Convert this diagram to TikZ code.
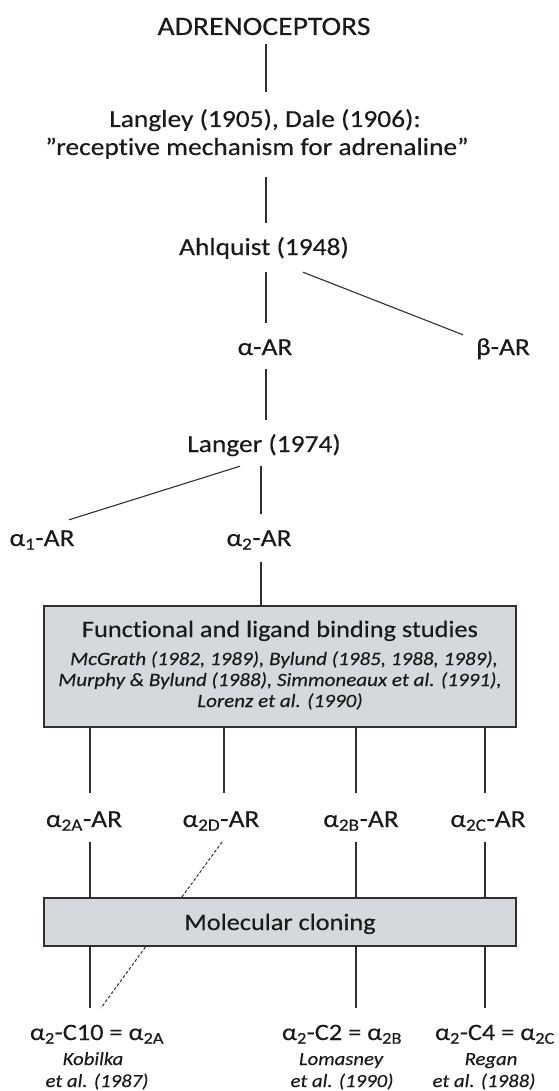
\documentclass[tikz,border=0pt]{standalone}
\usepackage{fontspec}
\setmainfont{Carlito}[FakeStretch=1.12, FakeBold=0.3, Ligatures=NoCommon]
\newcommand{\sbs}[1]{\textsubscript{#1}}
\definecolor{txt}{HTML}{1A1A1A}
\definecolor{ln}{HTML}{303030}
\definecolor{boxfill}{HTML}{D5D9DD}
\begin{document}
\begin{tikzpicture}[x=1pt,y=-1pt,
  lab/.style={font=\fontsize{24.5}{28}\selectfont, inner sep=0pt, text height=16pt, text depth=0pt, anchor=base, text=txt},
  ttl/.style={font=\fontsize{23.5}{28}\selectfont, inner sep=0pt, anchor=base, text=txt},
  cit/.style={font=\fontsize{18.5}{22}\selectfont\itshape, inner sep=0pt, anchor=base, text=txt},
  bcit/.style={font=\fontsize{18.8}{22}\selectfont\itshape, inner sep=0pt, anchor=base, text=txt},
  blab/.style={font=\fontsize{23.5}{28}\selectfont, inner sep=0pt, text height=16pt, text depth=0pt, anchor=base, text=txt},
  box/.style={draw=ln, line width=1.3pt, fill=boxfill, inner sep=0pt},
  conn/.style={draw=ln, line width=1.1pt},
  dconn/.style={draw=ln, line width=1pt, dash pattern=on 3pt off 2pt}]
\useasboundingbox (0,0) rectangle (558,1091);

% text nodes
\node[lab, font=\fontsize{26.5}{30}\selectfont] (adr) at (264,35) {ADRENOCEPTORS};
\node[lab] (lang1) at (265,127) {Langley (1905), Dale (1906):};
\node[lab] (lang2) at (257,155) {”receptive mechanism for adrenaline”};
\node[lab] (ahl) at (264,255) {Ahlquist (1948)};
\node[lab] (alpha) at (265,355) {α-AR};
\node[lab] (beta) at (503,355) {β-AR};
\node[lab] (langer) at (264,452) {Langer (1974)};
\node[lab] (a1) at (42,546) {α\sbs{1}-AR};
\node[lab] (a2) at (259,546) {α\sbs{2}-AR};

\node[lab] (a2a) at (84,827) {α\sbs{2A}-AR};
\node[lab] (a2d) at (221,827) {α\sbs{2D}-AR};
\node[lab] (a2b) at (361,827) {α\sbs{2B}-AR};
\node[lab] (a2c) at (488,827) {α\sbs{2C}-AR};

\coordinate (ta) at (261,0);
\coordinate (la) at (90,793);
\coordinate (ld) at (224,793);
\coordinate (lb) at (356,793);
\coordinate (lc) at (485,793);
\coordinate (ma) at (90,842);
\coordinate (md) at (222,842);
\coordinate (mb) at (356,842);
\coordinate (mcc) at (485,842);
\coordinate (ea) at (90,1008);
\coordinate (ed) at (101,1008);
\coordinate (eb) at (356,1008);
\coordinate (ec) at (485,1008);

\node[blab] (c10) at (97,1040) {α\sbs{2}-C10 = α\sbs{2A}};
\node[blab] (c2) at (342,1040) {α\sbs{2}-C2 = α\sbs{2B}};
\node[blab] (c4) at (495,1040) {α\sbs{2}-C4 = α\sbs{2C}};
\node[cit] (k1) at (93,1065) {Kobilka};
\node[cit] (k2) at (97,1087) {et al. (1987)};
\node[cit] (l1) at (341,1065) {Lomasney};
\node[cit] (l2) at (342,1087) {et al. (1990)};
\node[cit] (r1) at (491,1065) {Regan};
\node[cit] (r2) at (484,1087) {et al. (1988)};

% dashed connector (behind the cloning box)
\draw[dconn] (md) -- (ed);

% boxes
\node[box, minimum width=472pt, minimum height=121pt] (fb) at (280,666.5) {};
\node[ttl] (fbt) at (280,637) {Functional and ligand binding studies};
\node[bcit] (fb1) at (284,665) {McGrath (1982, 1989), Bylund (1985, 1988, 1989),};
\node[bcit] (fb2) at (280,686) {Murphy \& Bylund (1988), Simmoneaux et al. (1991),};
\node[bcit] (fb3) at (280,707) {Lorenz et al. (1990)};

\node[box, minimum width=472pt, minimum height=48pt] (mcb) at (280,922) {};
\node[ttl] (mct) at (280,930) {Molecular cloning};

% connectors
\draw[conn, shorten <=9pt, shorten >=19pt] ([xshift=2pt]adr.south) -- ([xshift=1pt]lang1.north);
\draw[conn, shorten <=22pt, shorten >=16pt] ([xshift=9pt]lang2.south) -- ([xshift=2pt]ahl.north);
\draw[conn, shorten <=17pt, shorten >=16pt] ([xshift=2pt]ahl.south) -- ([xshift=1pt]alpha.north);
\draw[conn] ([shift={(39,17)}]ahl.south) -- ([shift={(-40,-4)}]beta.north);
\draw[conn, shorten <=14pt, shorten >=16pt] ([xshift=1pt]alpha.south) -- ([xshift=2pt]langer.north);
\draw[conn, shorten <=14pt, shorten >=16pt] ([xshift=-3pt]langer.south) -- ([xshift=2pt]a2.north);
\draw[conn] ([shift={(-24,14)}]langer.south) -- ([shift={(27,-10)}]a1.north);
\draw[conn, shorten <=16pt] ([xshift=2pt]a2.south) -- (fb.north -| ta);

\draw[conn] (fb.south -| la) -- (la);
\draw[conn] (fb.south -| ld) -- (ld);
\draw[conn] (fb.south -| lb) -- (lb);
\draw[conn] (fb.south -| lc) -- (lc);

\draw[conn] (ma) -- (mcb.north -| ma);
\draw[conn] (mb) -- (mcb.north -| mb);
\draw[conn] (mcc) -- (mcb.north -| mcc);

\draw[conn] (mcb.south -| ea) -- (ea);
\draw[conn] (mcb.south -| eb) -- (eb);
\draw[conn] (mcb.south -| ec) -- (ec);
\end{tikzpicture}
\end{document}
